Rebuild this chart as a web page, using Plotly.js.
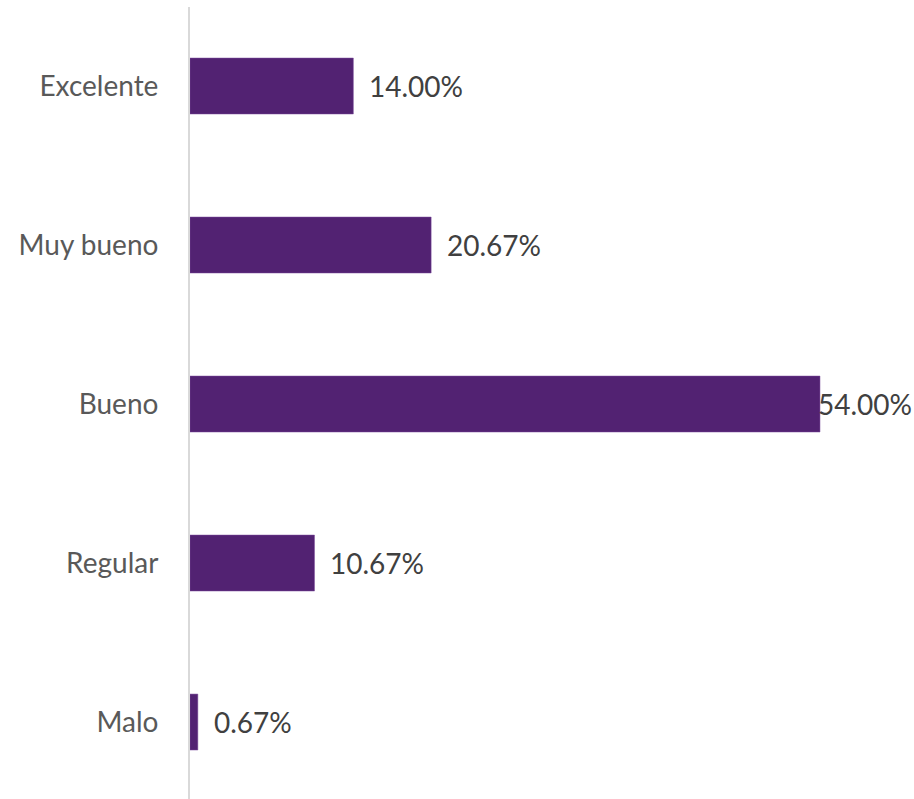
<!DOCTYPE html>
<html>
<head>
<meta charset="utf-8">
<script src="https://cdn.plot.ly/plotly-3.0.1.min.js"></script>
<style>html,body{margin:0;padding:0;background:#fff;}#chart{width:914px;height:799px;}</style>
</head>
<body>
<div id="chart"></div>
<script>
const categories = ["Excelente", "Muy bueno", "Bueno", "Regular", "Malo"];
const values = [14.00, 20.67, 54.00, 10.67, 0.67];
const valueLabels = ["14.00%", "20.67%", "54.00%", "10.67%", "0.67%"];

const maxVal = Math.max(...values);
const annotations = categories.map((c, i) => ({
  x: values[i], y: c, xref: "x", yref: "y",
  text: valueLabels[i], showarrow: false,
  xanchor: "left", yanchor: "middle",
  xshift: values[i] === maxVal ? -4 : 14,
  font: {family: "Lato, 'Open Sans', sans-serif", size: 28, color: "#404040"}
}));

const trace = {
  type: "bar", orientation: "h",
  x: values, y: categories,
  marker: {color: "#522272", line: {color: "#7a4a9a", width: 0.5}},
  hoverinfo: "skip"
};

const layout = {
  width: 914, height: 799,
  margin: {l: 190, r: 0, t: 7, b: 0},
  paper_bgcolor: "#fff", plot_bgcolor: "#fff",
  bargap: 0.648,
  showlegend: false,
  xaxis: {range: [0, 62.06], visible: false, fixedrange: true},
  yaxis: {
    range: [4.484, -0.497], showline: true, linecolor: "#d9d9d9", linewidth: 2,
    showgrid: false, zeroline: false, ticks: "", ticklen: 0,
    ticklabelstandoff: 24,
    tickfont: {family: "Lato, 'Open Sans', sans-serif", size: 28, color: "#595959"}
  },
  annotations: annotations
};

Plotly.newPlot("chart", [trace], layout, {displayModeBar: false, staticPlot: true});
</script>
</body>
</html>
